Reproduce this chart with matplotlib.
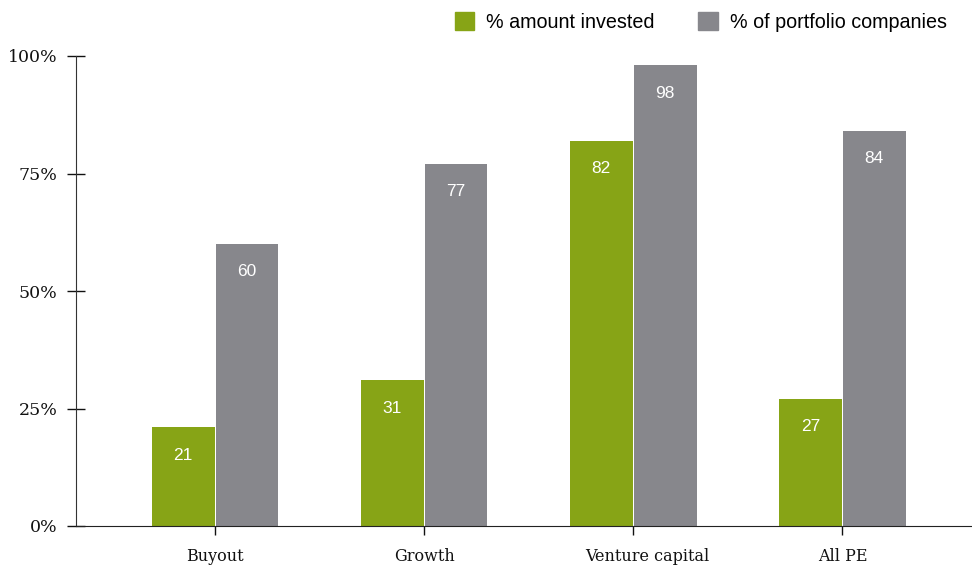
import matplotlib
matplotlib.use('Agg')
import matplotlib.pyplot as plt
import matplotlib.patches as mpatches
import matplotlib.transforms as mtransforms
import numpy as np

categories = ['Buyout', 'Growth', 'Venture capital', 'All PE']
amount_invested = [21, 31, 82, 27]
portfolio_companies = [60, 77, 98, 84]
yticks = [0, 25, 50, 75, 100]
ytick_labels = ['0%', '25%', '50%', '75%', '100%']

green = '#87A416'
grey = '#87878C'

fig = plt.figure(figsize=(9.72, 5.67), dpi=100)
ax = fig.add_axes([76 / 972, 1 - 526 / 567, 1 - 76 / 972, (526 - 56) / 567])

x = np.arange(len(categories))
w = 0.30
b1 = ax.bar(x - w / 2 - 0.0025, amount_invested, w, color=green, edgecolor='none')
b2 = ax.bar(x + w / 2 + 0.0025, portfolio_companies, w, color=grey, edgecolor='none')

for bars, vals in [(b1, amount_invested), (b2, portfolio_companies)]:
    for r, v in zip(bars, vals):
        ax.annotate(str(v), (r.get_x() + r.get_width() / 2, v), xytext=(0, -20),
                    textcoords='offset points', ha='center', va='center',
                    color='white', fontsize=12.5, family='Liberation Sans')

ax.set_xlim(-0.665, 3.62)
ax.set_ylim(0, 100)
ax.set_yticks(yticks)
ax.set_yticklabels(ytick_labels, family='DejaVu Serif', fontsize=12.5)
ax.set_xticks(x)
ax.set_xticklabels(categories, family='DejaVu Serif', fontsize=11.5)
ax.tick_params(axis='y', direction='inout', length=12.5, width=1, pad=7, colors='#111111')
ax.tick_params(axis='x', direction='out', length=6.5, width=1, pad=9, colors='#111111')
for s in ['top', 'right']:
    ax.spines[s].set_visible(False)
ax.spines['left'].set_color('#333333')
ax.spines['bottom'].set_color('#222222')

# the "Venture capital" label sits a bit right of its tick in the original
lbl = ax.get_xticklabels()[2]
lbl.set_transform(lbl.get_transform() + mtransforms.ScaledTranslation(14 / 100, 0, fig.dpi_scale_trans))

handles = [mpatches.Patch(color=green, label='% amount invested'),
           mpatches.Patch(color=grey, label='% of portfolio companies')]
fig.legend(handles=handles, loc='center right', bbox_to_anchor=(0.982, 1 - 22 / 567),
           ncol=2, frameon=False, prop={'family': 'Liberation Sans', 'size': 14.2},
           handlelength=1.0, handleheight=1.0, handletextpad=0.6, columnspacing=2.2,
           borderaxespad=0)

fig.savefig('out.png', dpi=100)
